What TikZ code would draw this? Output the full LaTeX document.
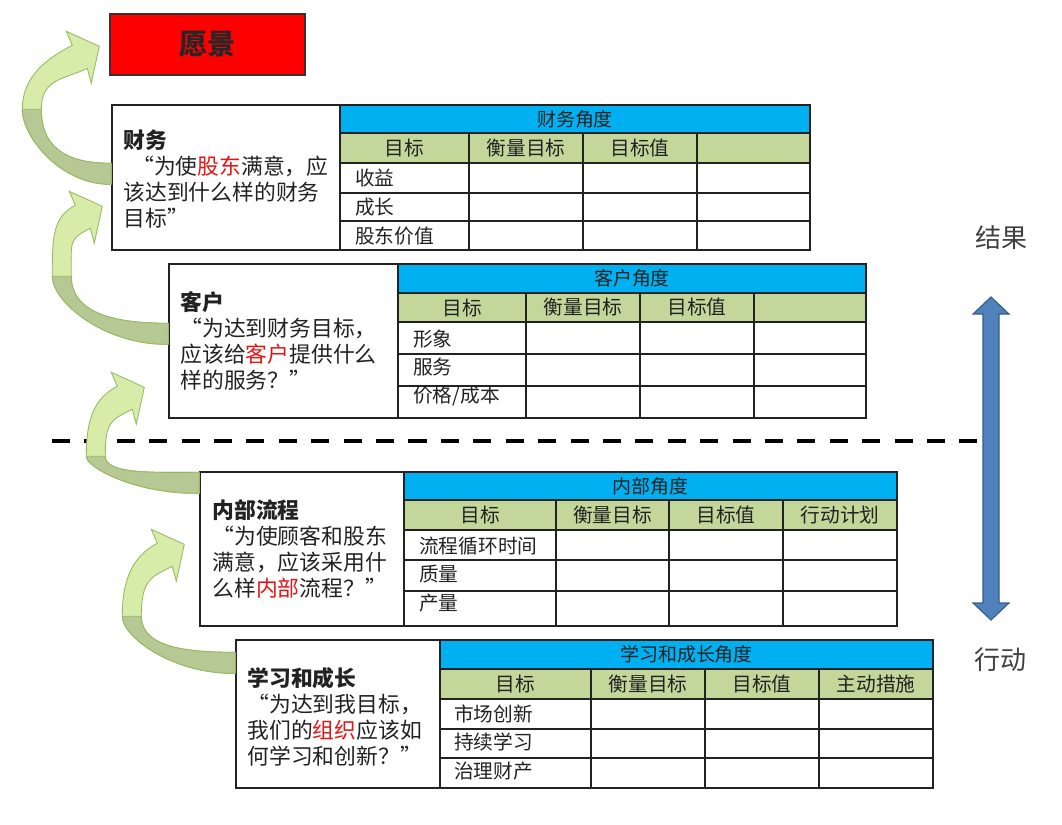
\documentclass[tikz,border=0pt]{standalone}
\usepackage{fontspec}
\usepackage{xcolor}
\usepackage{tikz}
\usetikzlibrary{arrows.meta,positioning,fit,calc}
\newfontfamily\cjk{Noto Sans CJK SC}
\definecolor{hdblue}{RGB}{0,176,240}
\definecolor{colgreen}{RGB}{196,215,155}
\definecolor{inkdark}{RGB}{34,34,34}
\definecolor{wordred}{RGB}{232,20,20}
\definecolor{visred}{RGB}{255,0,0}
\definecolor{arrblue}{RGB}{79,129,189}
\definecolor{arrblueedge}{RGB}{56,93,138}
\definecolor{arrlight}{RGB}{216,236,170}
\definecolor{arrdark}{RGB}{182,200,148}
\definecolor{arredge}{RGB}{150,185,95}
\tikzset{
  qbox/.style={draw=inkdark,line width=1pt,fill=white,inner sep=0pt},
  visbox/.style={draw=black!80,line width=1pt,fill=visred,inner sep=0pt,
                 minimum width=4.875cm,minimum height=1.525cm,
                 font=\cjk\fontsize{20}{24}\selectfont\bfseries,text=black!85},
  qtext/.style={align=left,inner sep=0pt,text=inkdark,
                font=\cjk\fontsize{15.5}{18.5}\selectfont},
  tline/.style={draw=inkdark,line width=0.8pt},
  hdtext/.style={inner sep=0pt,text=inkdark,font=\cjk\fontsize{13.5}{16}\selectfont},
  coltext/.style={inner sep=0pt,text=inkdark,font=\cjk\fontsize{14}{16}\selectfont},
  rowtext/.style={coltext,anchor=west},
  sidetext/.style={inner sep=0pt,text=black!75,font=\cjk\fontsize{18.5}{22}\selectfont},
}
\newcommand\redword[1]{\textcolor{wordred}{#1}}
% curved green arrow: tail coordinate, leftmost point, tip (px, relative to tail)
\newcommand\ribbon[5]{%
  \begin{scope}[shift={(#1)}]
    \filldraw[arrlight,draw=arredge,line width=0.6pt]
      (0,11) .. controls ({0.55*(#2)},12) and (#2,{0.55*(#3)}) .. (#2,#3)
      .. controls (#2,{#3-0.55*(#3-(#5))}) and ({#4-50},{#5+11}) .. ({#4-27},{#5-1})
      -- ({#4-33},{#5-15}) -- (#4,#5) -- ({#4-8},{#5+37}) -- ({#4-12},{#5+22})
      .. controls ({#4-34},{#5+33}) and ({#2+19},{#3-0.5*(#3-(#5))}) .. ({#2+19},#3)
      .. controls ({#2+19},{0.3*(#3)}) and ({0.4*(#2)},-10) .. (0,-10) -- cycle;
    \filldraw[arrdark,draw=arredge,line width=0.6pt]
      (0,11) .. controls ({0.55*(#2)},12) and (#2,{0.55*(#3)}) .. (#2,#3)
      -- ({#2+19},#3) .. controls ({#2+19},{0.3*(#3)}) and ({0.4*(#2)},-10) .. (0,-10) -- cycle;
  \end{scope}}

\begin{document}
\begin{tikzpicture}[x=0.025cm,y=-0.025cm]
\useasboundingbox[fill=white] (0,0) rectangle (1062,824);

% vision
\node[visbox] (vision) at (207.5,44.5) {愿景};

% finance
\node[qbox,fit={(112,105)(340,250)}] (finbox) {};
\node[qtext,anchor=west] (fintxt) at ($(finbox.west)+(12,2)$)
  {\textbf{财务}\\\hspace{0.4em}“为使\redword{股东}满意，应\\该达到什么样的财务\\目标”};
\fill[hdblue] (340,105) rectangle (810,133);
\fill[colgreen] (340,133) rectangle (810,163);
\draw[tline] (340,105) rectangle (810,250);
\foreach \y in {133,163,193,221} \draw[tline] (340,\y) -- (810,\y);
\foreach \x in {469,583,697} \draw[tline] (\x,133) -- (\x,250);
\node[hdtext] (finhd) at (575,119) {财务角度};
\foreach \x/\t [count=\i] in {404.5/目标,526/衡量目标,640/目标值}
  \node[coltext] (fincol\i) at (\x,148) {\t};
\foreach \y/\t [count=\i] in {178/收益,207/成长,236/股东价值}
  \node[rowtext] (finrow\i) at (355,\y) {\t};

% customer
\node[qbox,fit={(169,264)(398,418)}] (custbox) {};
\node[qtext,anchor=west] (custtxt) at ($(custbox.west)+(12,0)$)
  {\textbf{客户}\\“为达到财务目标，\\应该给\redword{客户}提供什么\\样的服务？”};
\fill[hdblue] (398,264) rectangle (866,293);
\fill[colgreen] (398,293) rectangle (866,322);
\draw[tline] (398,264) rectangle (866,418);
\foreach \y in {293,322,354,386} \draw[tline] (398,\y) -- (866,\y);
\foreach \x in {526,640,754} \draw[tline] (\x,293) -- (\x,418);
\node[hdtext] (custhd) at (632,278.5) {客户角度};
\foreach \x/\t [count=\i] in {462/目标,583/衡量目标,697/目标值}
  \node[coltext] (custcol\i) at (\x,307.5) {\t};
\foreach \y/\t [count=\i] in {339/形象,367/服务,396/{价格/成本}}
  \node[rowtext] (custrow\i) at (413,\y) {\t};

% internal process
\node[qbox,fit={(200,472)(404,626)}] (intbox) {};
\node[qtext,anchor=west] (inttxt) at ($(intbox.west)+(13,0)$)
  {\textbf{内部流程}\\“为使顾客和股东\\满意，应该采用什\\么样\redword{内部}流程？”};
\fill[hdblue] (404,472) rectangle (897,500);
\fill[colgreen] (404,500) rectangle (897,530);
\draw[tline] (404,472) rectangle (897,626);
\foreach \y in {500,530,560,591} \draw[tline] (404,\y) -- (897,\y);
\foreach \x in {556,669,783} \draw[tline] (\x,500) -- (\x,626);
\node[hdtext] (inthd) at (650.5,486) {内部角度};
\foreach \x/\t [count=\i] in {480/目标,612.5/衡量目标,726/目标值,840/行动计划}
  \node[coltext] (intcol\i) at (\x,515) {\t};
\foreach \y/\t [count=\i] in {546/流程循环时间,574/质量,603/产量}
  \node[rowtext] (introw\i) at (419,\y) {\t};

% learning and growth
\node[qbox,fit={(236,640)(440,788)}] (learnbox) {};
\node[qtext,anchor=west] (learntxt) at ($(learnbox.west)+(12,3)$)
  {\textbf{学习和成长}\\“为达到我目标，\\我们的\redword{组织}应该如\\何学习和创新？”};
\fill[hdblue] (440,640) rectangle (933,669);
\fill[colgreen] (440,669) rectangle (933,699);
\draw[tline] (440,640) rectangle (933,788);
\foreach \y in {669,699,729,758} \draw[tline] (440,\y) -- (933,\y);
\foreach \x in {591,705,819} \draw[tline] (\x,669) -- (\x,788);
\node[hdtext] (learnhd) at (686.5,654.5) {学习和成长角度};
\foreach \x/\t [count=\i] in {515.5/目标,648/衡量目标,762/目标值,876/主动措施}
  \node[coltext] (learncol\i) at (\x,684) {\t};
\foreach \y/\t [count=\i] in {714/市场创新,742/持续学习,771/治理财产}
  \node[rowtext] (learnrow\i) at (454,\y) {\t};

% dividing line
\draw[line width=3.5pt,dash pattern=on 0.45cm off 0.36cm] (52,441) -- (983,441);

% curved arrows up the chain
\coordinate (t1) at ($(finbox.north west)+(0,69)$);
\coordinate (t2) at ($(custbox.north west)+(0,70)$);
\coordinate (t3) at ($(intbox.north west)+(0,11)$);
\coordinate (t4) at ($(learnbox.north west)+(0,23)$);
\ribbon{t1}{-89}{-64}{-12}{-127}
\ribbon{t2}{-116}{-57}{-66}{-127}
\ribbon{t3}{-113}{-26}{-55}{-95}
\ribbon{t4}{-113}{-46}{-51}{-118}

% results / actions
\node[sidetext] (result) at (1001,238) {结果};
\node[sidetext] (action) at (1000,660) {行动};
\filldraw[fill=arrblue,draw=arrblueedge,line width=0.8pt]
  (991,297) -- (1009,314) -- (999,314) -- (999,603) -- (1009,603) -- (991,620)
  -- (973,603) -- (983,603) -- (983,314) -- (973,314) -- cycle;

\end{tikzpicture}
\end{document}
